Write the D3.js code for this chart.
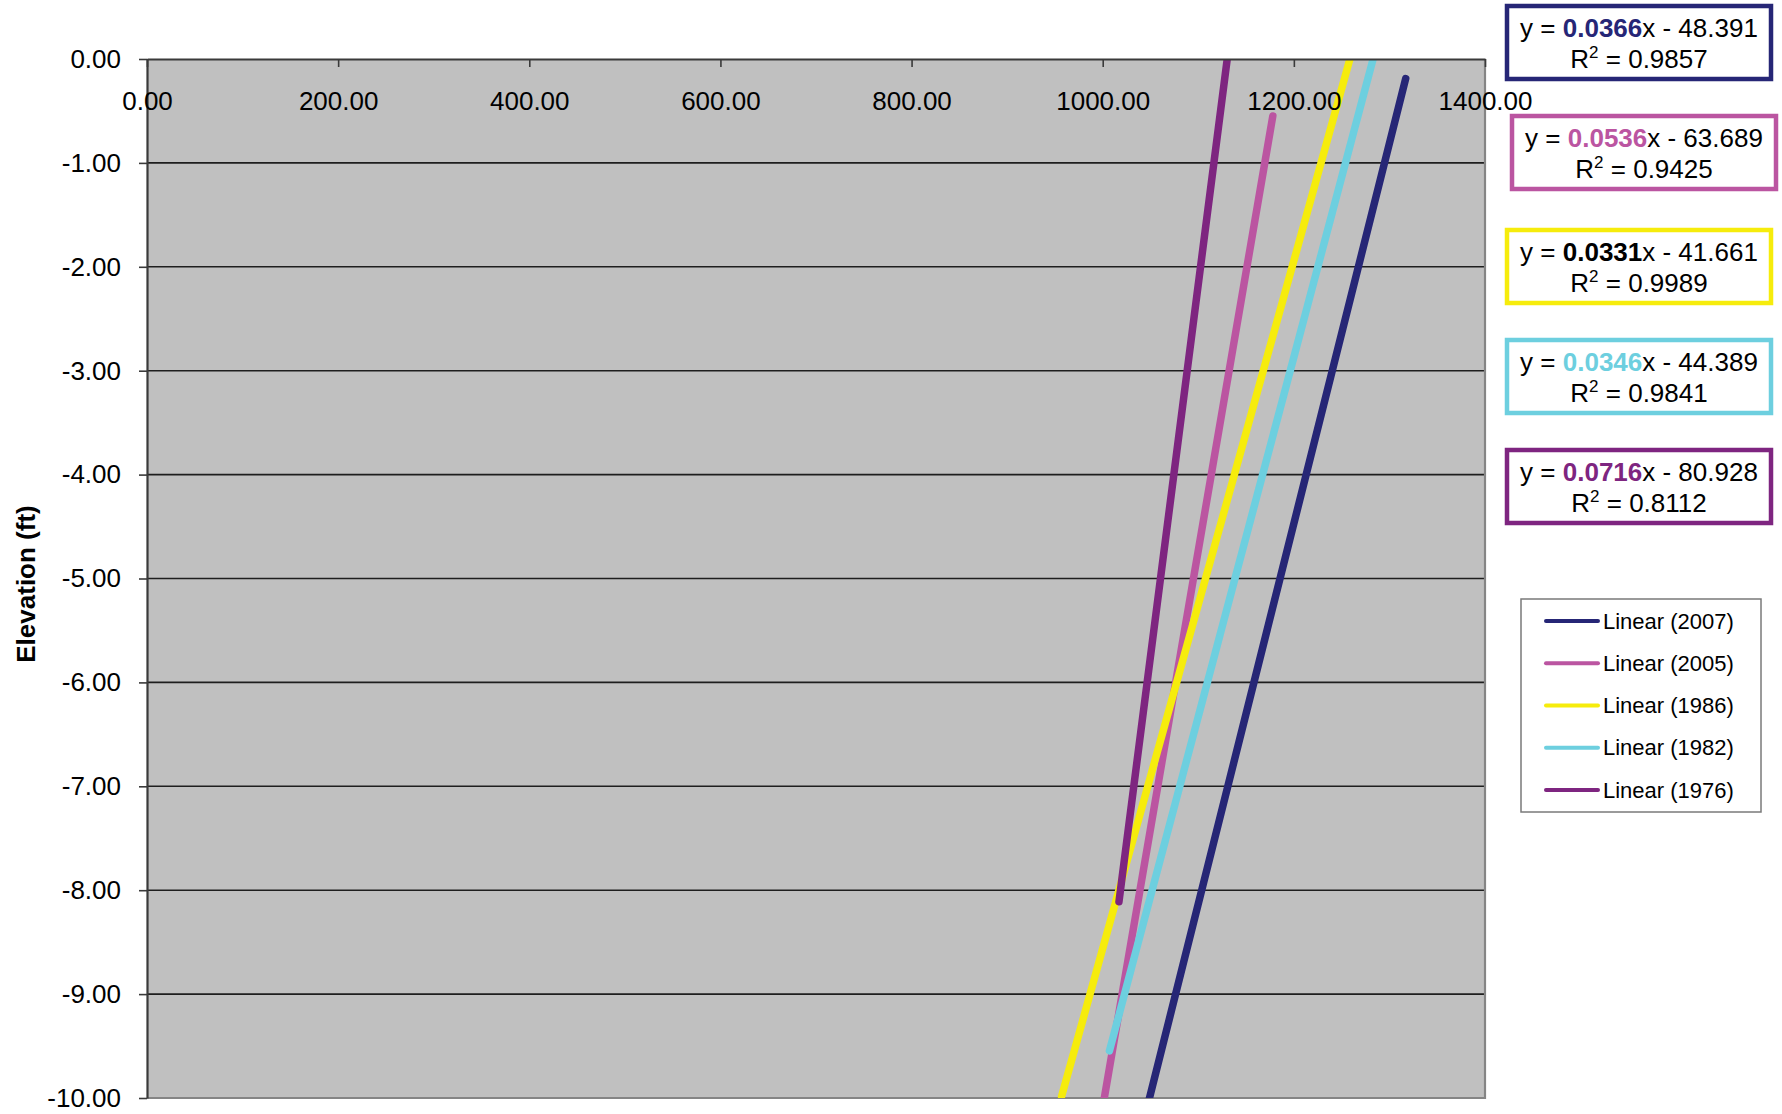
<!DOCTYPE html>
<html>
<head>
<meta charset="utf-8">
<script src="https://cdn.jsdelivr.net/npm/d3@7"></script>
<style>
  html, body { margin: 0; padding: 0; background: #ffffff; }
  svg { display: block; font-family: "Liberation Sans", Arial, sans-serif; }
</style>
</head>
<body>
<svg id="chart" width="1782" height="1114"></svg>
<script>
// ---- data ----
const seriesNames = ["Linear (2007)", "Linear (2005)", "Linear (1986)", "Linear (1982)", "Linear (1976)"];
const slopes = [0.0366, 0.0536, 0.0331, 0.0346, 0.0716];
const intercepts = [-48.391, -63.689, -41.661, -44.389, -80.928];
const rSquared = ["0.9857", "0.9425", "0.9989", "0.9841", "0.8112"];
const slopeLabels = ["0.0366", "0.0536", "0.0331", "0.0346", "0.0716"];
const interceptLabels = ["48.391", "63.689", "41.661", "44.389", "80.928"];
const xStart = [1040, 995, 957, 1007, 1017];
const xEnd = [1317, 1178, 1265, 1290, 1135];
const xTicks = [0, 200, 400, 600, 800, 1000, 1200, 1400];
const yTicks = [0, -1, -2, -3, -4, -5, -6, -7, -8, -9, -10];
const yTitle = "Elevation (ft)";

// ---- styles ----
const colors = ["#262676", "#bb55a1", "#f6ec0c", "#6dcfdf", "#7e2580"];
const slopeTextColors = ["#262676", "#bb55a1", "#000000", "#6dcfdf", "#7e2580"];

const plot = { left: 147, top: 59, right: 1485, bottom: 1098 };
const svg = d3.select("#chart");
const fmt = d => d3.format(".2f")(d).replace("\u2212", "-");

const x = d3.scaleLinear().domain([0, 1400]).range([plot.left, plot.right]);
const y = d3.scaleLinear().domain([-10, 0]).range([plot.bottom, plot.top]);

// plot background
svg.append("rect")
  .attr("x", plot.left).attr("y", plot.top)
  .attr("width", plot.right - plot.left).attr("height", plot.bottom - plot.top)
  .attr("fill", "#c0c0c0");

// gridlines
svg.append("g").selectAll("line").data(yTicks.filter(d => d !== 0 && d !== -10)).join("line")
  .attr("x1", plot.left).attr("x2", plot.right)
  .attr("y1", d => y(d)).attr("y2", d => y(d))
  .attr("stroke", "#1e1e1e").attr("stroke-width", 1.6);

// right & bottom border
svg.append("path")
  .attr("d", `M${plot.right},${plot.top}V${plot.bottom}H${plot.left}`)
  .attr("fill", "none").attr("stroke", "#858585").attr("stroke-width", 2.2);

// clip
svg.append("clipPath").attr("id", "clip").append("rect")
  .attr("x", plot.left).attr("y", plot.top)
  .attr("width", plot.right - plot.left).attr("height", plot.bottom - plot.top);

// trend lines
const line = d3.line().x(d => x(d[0])).y(d => y(d[1]));
const gLines = svg.append("g").attr("clip-path", "url(#clip)");
seriesNames.forEach((name, i) => {
  const pts = [xStart[i], xEnd[i]].map(v => [v, slopes[i] * v + intercepts[i]]);
  gLines.append("path")
    .attr("d", line(pts))
    .attr("fill", "none")
    .attr("stroke", colors[i])
    .attr("stroke-width", 7.5)
    .attr("stroke-linecap", "round");
});

// y axis (left)
const yAxis = d3.axisLeft(y).tickValues(yTicks).tickFormat(fmt).tickSize(8).tickSizeOuter(0).tickPadding(18);
const gy = svg.append("g").attr("transform", `translate(${plot.left},0)`).call(yAxis);
gy.select(".domain").attr("stroke", "#3a3a3a").attr("stroke-width", 2.2);
gy.selectAll(".tick line").attr("stroke", "#3a3a3a").attr("stroke-width", 1.6);
gy.selectAll(".tick text").attr("font-size", 26).attr("fill", "#000")
  .attr("font-family", "Liberation Sans, Arial, sans-serif");

// x axis (top, at elevation 0) with labels inside below
const xAxis = d3.axisBottom(x).tickValues(xTicks).tickFormat(fmt).tickSize(8).tickSizeOuter(0).tickPadding(25);
const gx = svg.append("g").attr("transform", `translate(0,${y(0)})`).call(xAxis);
gx.select(".domain").attr("stroke", "#3a3a3a").attr("stroke-width", 2.2);
gx.selectAll(".tick line").attr("stroke", "#3a3a3a").attr("stroke-width", 1.6);
gx.selectAll(".tick text").attr("font-size", 26).attr("fill", "#000")
  .attr("font-family", "Liberation Sans, Arial, sans-serif");

// y title
svg.append("text")
  .attr("transform", `translate(35,584) rotate(-90)`)
  .attr("text-anchor", "middle")
  .attr("font-size", 26).attr("font-weight", "bold")
  .text(yTitle);

// equation boxes
const boxX = [1507, 1512, 1507, 1507, 1507];
const boxY = [6, 116, 230, 340, 450];
const boxW = 264, boxH = 73;
seriesNames.forEach((name, i) => {
  const g = svg.append("g");
  g.append("rect")
    .attr("x", boxX[i]).attr("y", boxY[i]).attr("width", boxW).attr("height", boxH)
    .attr("fill", "#ffffff").attr("stroke", colors[i]).attr("stroke-width", 4.5);
  const cx = boxX[i] + boxW / 2;
  const t1 = g.append("text").attr("x", cx).attr("y", boxY[i] + 31)
    .attr("text-anchor", "middle").attr("font-size", 26).attr("fill", "#000");
  t1.append("tspan").text("y = ");
  t1.append("tspan").attr("font-weight", "bold").attr("fill", slopeTextColors[i]).text(slopeLabels[i]);
  t1.append("tspan").text("x - " + interceptLabels[i]);
  const t2 = g.append("text").attr("x", cx).attr("y", boxY[i] + 62)
    .attr("text-anchor", "middle").attr("font-size", 26).attr("fill", "#000");
  t2.append("tspan").text("R");
  t2.append("tspan").attr("font-size", 17).attr("dy", -10).text("2");
  t2.append("tspan").attr("dy", 10).text(" = " + rSquared[i]);
});

// legend
const leg = svg.append("g");
leg.append("rect")
  .attr("x", 1521).attr("y", 599).attr("width", 240).attr("height", 213)
  .attr("fill", "#ffffff").attr("stroke", "#7a7a7a").attr("stroke-width", 1.5);
const legY = d3.scalePoint().domain(seriesNames).range([621, 790]);
seriesNames.forEach((name, i) => {
  leg.append("line")
    .attr("x1", 1546).attr("x2", 1598)
    .attr("y1", legY(name)).attr("y2", legY(name))
    .attr("stroke", colors[i]).attr("stroke-width", 4).attr("stroke-linecap", "round");
  leg.append("text")
    .attr("x", 1603).attr("y", legY(name)).attr("dy", "0.35em")
    .attr("font-size", 22).attr("fill", "#000").text(name);
});
</script>
</body>
</html>
